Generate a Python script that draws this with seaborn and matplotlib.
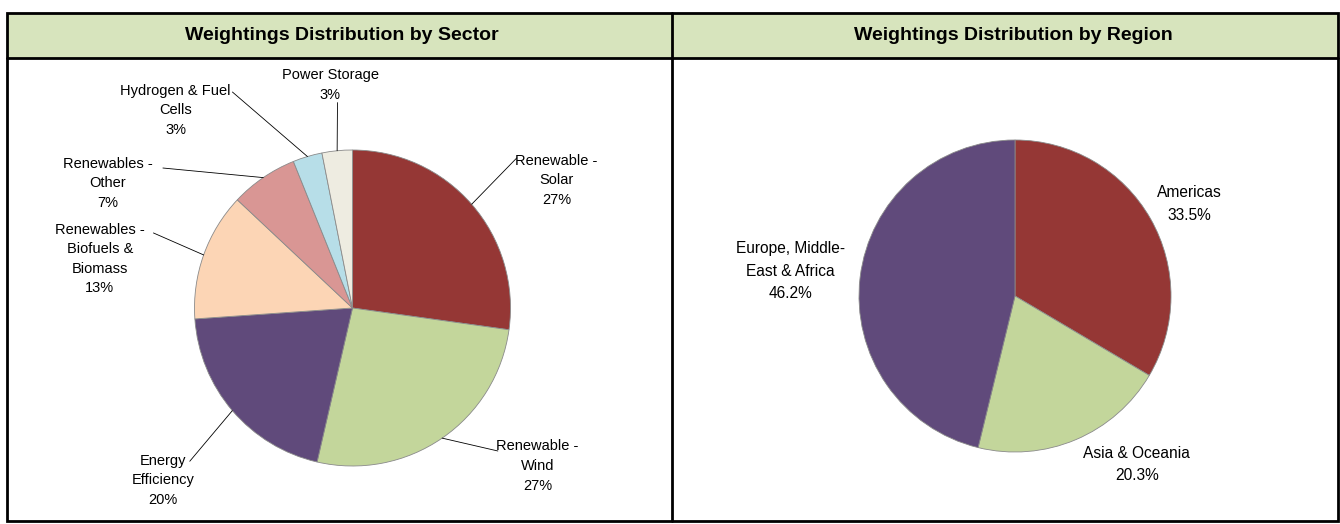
import matplotlib
matplotlib.use("Agg")
import matplotlib.pyplot as plt
import seaborn as sns
import numpy as np
from matplotlib.patches import Rectangle

# data
sector_labels = ["Renewable -\nSolar", "Renewable -\nWind", "Energy\nEfficiency",
                 "Renewables -\nBiofuels &\nBiomass", "Renewables -\nOther",
                 "Hydrogen & Fuel\nCells", "Power Storage"]
sector_values = [27.2, 26.4, 20.3, 13.1, 6.9, 3.0, 3.1]
sector_pct = ["27%", "27%", "20%", "13%", "7%", "3%", "3%"]
sector_colors = ["#953735", "#C3D69B", "#604A7B", "#FCD5B5", "#D99694", "#B7DEE8", "#EEECE1"]

region_labels = ["Americas", "Asia & Oceania", "Europe, Middle-\nEast & Africa"]
region_values = [33.5, 20.3, 46.2]
region_colors = ["#953735", "#C3D69B", "#604A7B"]

# layout (data units of each pie, radius = 1)
sector_text_xy = [(1.29, 0.81), (1.17, -1.0), (-1.20, -1.09), (-1.60, 0.31),
                  (-1.55, 0.79), (-1.12, 1.25), (-0.14, 1.41)]
sector_leader_end = [(1.04, 0.95), (0.92, -0.905), (-1.03, -0.97), (-1.26, 0.475),
                     (-1.20, 0.886), (-0.76, 1.367), (-0.095, 1.30)]
region_text_xy = [(1.12, 0.59), (0.78, -1.08), (-1.44, 0.16)]

W, H = 1340, 524

sns.set_theme(style="white")
plt.rcParams["font.family"] = ["Liberation Sans Narrow", "Liberation Sans", "DejaVu Sans"]
plt.rcParams["text.color"] = "black"

fig = plt.figure(figsize=(W / 100, H / 100), dpi=100)

# frame / header band
bg = fig.add_axes([0, 0, 1, 1])
bg.set_xlim(0, W)
bg.set_ylim(H, 0)
bg.axis("off")
bg.add_patch(Rectangle((7, 13), 1331, 45, facecolor="#D7E4BD", edgecolor="none"))
bg.add_patch(Rectangle((7, 13), 1331, 508, facecolor="none", edgecolor="black", lw=2))
bg.plot([7, 1338], [58, 58], color="black", lw=2)
bg.plot([672, 672], [13, 521], color="black", lw=2)
bg.text(342, 36, "Weightings Distribution by Sector", ha="center", va="center",
        fontsize=14, fontweight="bold")
bg.text(1013, 36, "Weightings Distribution by Region", ha="center", va="center",
        fontsize=14, fontweight="bold")


def pie_axes(cx, cy, r):
    return fig.add_axes([(cx - r) / W, (H - cy - r) / H, 2 * r / W, 2 * r / H])


wedge_kw = dict(edgecolor="#8a8a8a", linewidth=0.6)
label_kw = dict(ha="center", va="center", fontsize=10.5, linespacing=1.5, color="black")

# sector pie
ax1 = pie_axes(352.5, 308, 158)
wedges, _ = ax1.pie(sector_values, colors=sns.color_palette(sector_colors),
                    startangle=90, counterclock=False, wedgeprops=wedge_kw)
ax1.set_xlim(-1, 1)
ax1.set_ylim(-1, 1)
ax1.axis("off")
for w, lab, pct, txy, lend in zip(wedges, sector_labels, sector_pct,
                                  sector_text_xy, sector_leader_end):
    mid = np.deg2rad((w.theta1 + w.theta2) / 2)
    ax1.plot([np.cos(mid), lend[0]], [np.sin(mid), lend[1]], color="black",
             lw=0.6, clip_on=False)
    ax1.text(txy[0], txy[1], lab + "\n" + pct, clip_on=False, **label_kw)

# region pie
ax2 = pie_axes(1015, 296, 156)
wedges2, _ = ax2.pie(region_values, colors=sns.color_palette(region_colors),
                     startangle=90, counterclock=False, wedgeprops=wedge_kw)
ax2.set_xlim(-1, 1)
ax2.set_ylim(-1, 1)
ax2.axis("off")
region_kw = dict(label_kw, fontsize=11.2, linespacing=1.6)
for lab, val, txy in zip(region_labels, region_values, region_text_xy):
    ax2.text(txy[0], txy[1], f"{lab}\n{val:.1f}%", clip_on=False, **region_kw)

fig.savefig("out.png", dpi=100)
